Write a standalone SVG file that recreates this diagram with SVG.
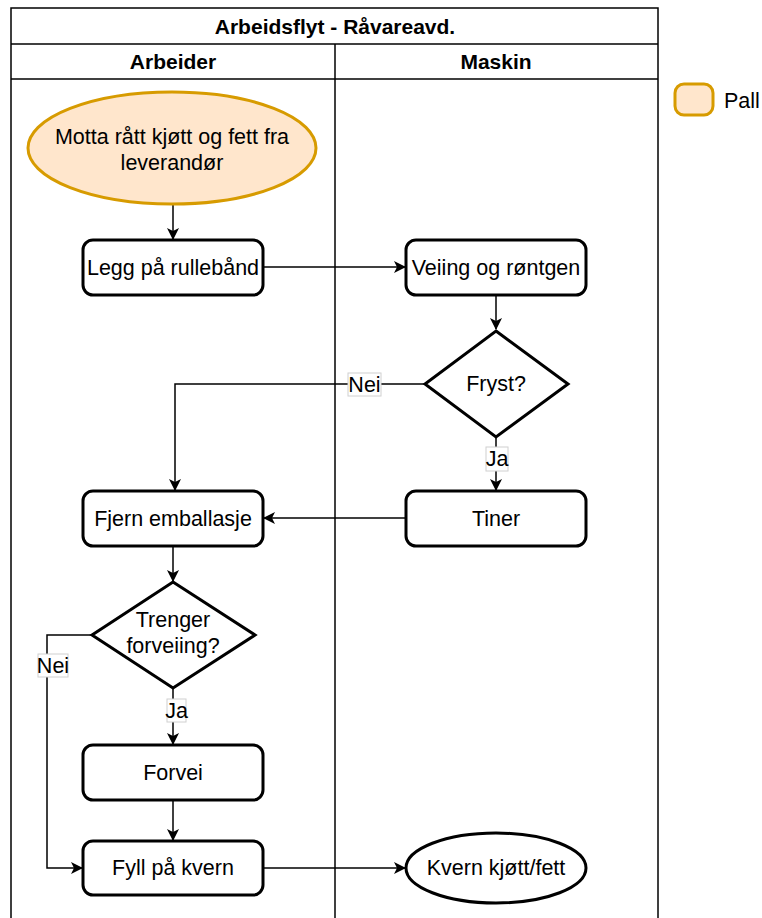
<svg xmlns="http://www.w3.org/2000/svg" width="762" height="918" viewBox="0 0 762 918">
<defs>
<marker id="arr" viewBox="0 0 12 12" refX="11" refY="6" markerWidth="12" markerHeight="12" markerUnits="userSpaceOnUse" orient="auto">
<path d="M0,0 L12,6 L0,12 L3,6 Z" fill="#000"/>
</marker>
</defs>
<style>
text{font-family:"Liberation Sans",Arial,sans-serif;fill:#000;text-anchor:middle;dominant-baseline:central}
.t{font-size:21.5px}
.h{font-size:21px;font-weight:bold}
.n{fill:#fff;stroke:#000;stroke-width:3}
.s{fill:#ffe6cc;stroke:#d79b00;stroke-width:3}
.c{fill:none;stroke:#000;stroke-width:1.5;marker-end:url(#arr)}
.lb{fill:#fff;stroke:#d0d0d0;stroke-width:1}
.pool{fill:none;stroke:#000;stroke-width:1.5}
</style>
<rect width="762" height="918" fill="#fff"/>
<g id="pool">
<rect class="pool" x="11" y="8" width="647" height="920"/>
<line class="pool" x1="11" y1="44" x2="658" y2="44"/>
<line class="pool" x1="11" y1="79" x2="658" y2="79"/>
<line class="pool" x1="335" y1="44" x2="335" y2="918"/>
<text class="h" x="335" y="26">Arbeidsflyt - Råvareavd.</text>
<text class="h" x="173" y="61">Arbeider</text>
<text class="h" x="496" y="61">Maskin</text>
</g>
<g id="connectors">
<path class="c" d="M173,204 L173,239"/>
<path class="c" d="M263,267 L405,267"/>
<path class="c" d="M496,295 L496,329"/>
<path class="c" d="M425,384 L175,384 L175,490"/>
<path class="c" d="M496,438 L496,490"/>
<path class="c" d="M406,518 L264,518"/>
<path class="c" d="M173,546 L173,581"/>
<path class="c" d="M92,635 L47,635 L47,868 L82,868"/>
<path class="c" d="M173,688 L173,744"/>
<path class="c" d="M173,800 L173,840"/>
<path class="c" d="M263,868 L405,868"/>
<rect class="lb" x="348" y="373" width="33" height="23"/>
<text class="t" x="364.5" y="385">Nei</text>
<rect class="lb" x="486" y="447" width="22" height="24"/>
<text class="t" x="497" y="459">Ja</text>
<rect class="lb" x="38" y="654" width="30" height="23"/>
<text class="t" x="53" y="666">Nei</text>
<rect class="lb" x="167" y="699" width="19" height="23"/>
<text class="t" x="176.5" y="711">Ja</text>
</g>
<g id="motta">
<ellipse class="s" cx="172" cy="148" rx="144" ry="56"/>
<text class="t" x="172" y="137">Motta rått kjøtt og fett fra</text>
<text class="t" x="172" y="163">leverandør</text>
</g>
<g id="legg">
<rect class="n" x="83" y="240" width="180" height="55" rx="10"/>
<text class="t" x="173" y="268">Legg på rullebånd</text>
</g>
<g id="veiing">
<rect class="n" x="406" y="240" width="180" height="55" rx="10"/>
<text class="t" x="496" y="268">Veiing og røntgen</text>
</g>
<g id="fryst">
<path class="n" d="M496,331 L568,384 L496,437 L425,384 Z"/>
<text class="t" x="496" y="384">Fryst?</text>
</g>
<g id="tiner">
<rect class="n" x="406" y="491" width="180" height="55" rx="10"/>
<text class="t" x="496" y="519">Tiner</text>
</g>
<g id="fjern">
<rect class="n" x="83" y="491" width="180" height="55" rx="10"/>
<text class="t" x="173" y="519">Fjern emballasje</text>
</g>
<g id="trenger">
<path class="n" d="M173,582 L255,635 L173,688 L92,635 Z"/>
<text class="t" x="173" y="620">Trenger</text>
<text class="t" x="173" y="646">forveiing?</text>
</g>
<g id="forvei">
<rect class="n" x="83" y="745" width="180" height="55" rx="10"/>
<text class="t" x="173" y="773">Forvei</text>
</g>
<g id="fyll">
<rect class="n" x="83" y="841" width="180" height="54" rx="10"/>
<text class="t" x="173" y="868">Fyll på kvern</text>
</g>
<g id="kvern">
<ellipse class="n" cx="496" cy="868" rx="90" ry="35"/>
<text class="t" x="496" y="868">Kvern kjøtt/fett</text>
</g>
<g id="legend">
<rect class="s" x="675" y="84" width="38" height="31" rx="9"/>
<text class="t" x="724" y="101" style="text-anchor:start">Pall</text>
</g>
</svg>
